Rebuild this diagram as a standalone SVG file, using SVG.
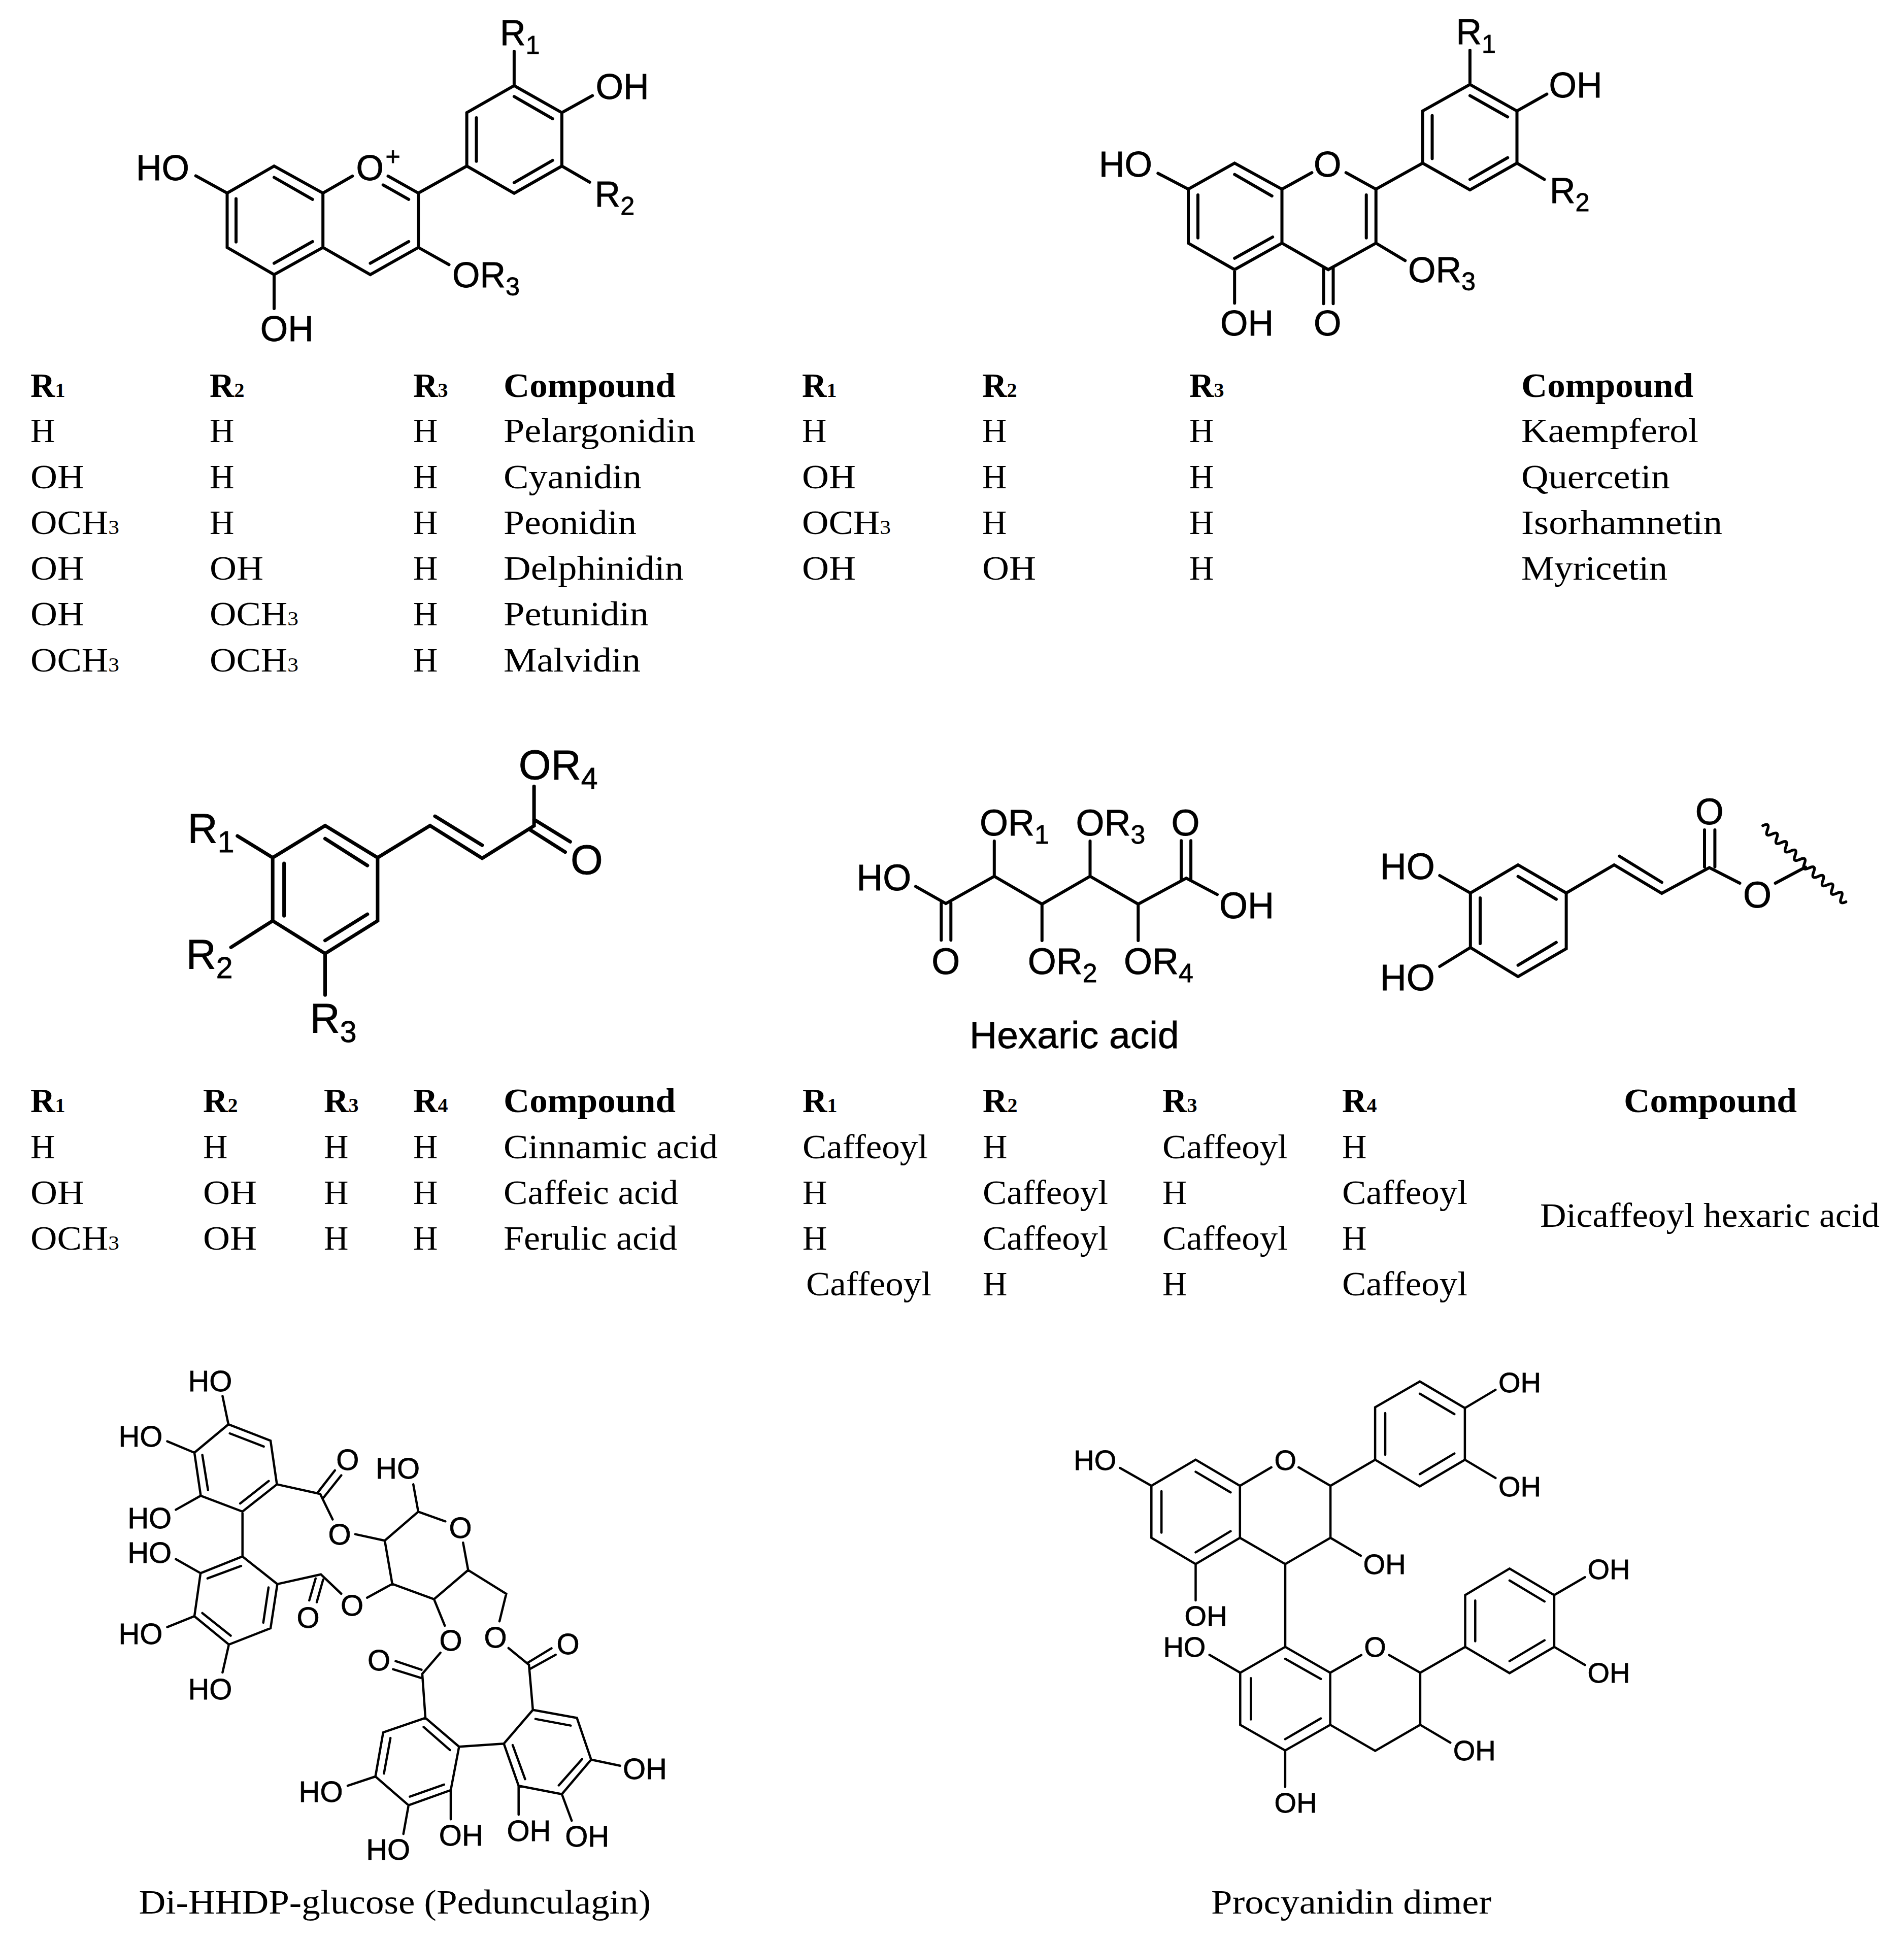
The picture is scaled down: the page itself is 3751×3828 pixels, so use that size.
<svg xmlns="http://www.w3.org/2000/svg" width="3751" height="3828" viewBox="0 0 3751 3828">
<style>
.b{fill:none;stroke:#000;stroke-linecap:round;stroke-linejoin:miter}
.w6{stroke-width:6}.w7{stroke-width:7}.w45{stroke-width:4.5}
.a{font-family:"Liberation Sans",Arial,sans-serif;fill:#000;stroke:#000;stroke-width:.8}
.f70{font-size:70px}.f82{font-size:82px}.f72{font-size:72px}.f58{font-size:58px}.f56{font-size:56px}
.s{font-size:.72em}
.t{font-family:"Liberation Serif","Times New Roman",serif;font-size:67px;fill:#000}
.h{font-weight:bold}
.u{font-size:40px}
</style>
<rect width="3751" height="3828" fill="#fff"/>

<g id="anthocyanidin">
<path class="b w6" d="M447.5 380.4L540 327.2L636.2 380.4L636.2 487.5L540 541L447.5 487.5Z M385.7 346.4L447.5 380.4 M636.2 380.4L694.4 346.9 M764.5 346.9L824.2 380.4L824.2 487.5L729.5 541L636.2 487.5 M824.2 380.4L919.6 327.2L919.6 221.9L1012.9 168.7L1106.9 221.9L1106.9 327.2L1012.9 380.8L919.6 327.2 M540 349.5L615.8 392.8 M465 391.5V476.8 M540 518.7L615.8 475.9 M729.5 518.7L805.2 475.9 M754.7 364.3L805.2 392.8 M1012.9 190.2L1088.7 233.9 M938.5 232.1V317.8 M1088.7 316L1012.9 359.8 M540 541V608 M824.2 487.5L884.5 521.4 M1012.9 168.7V100.9 M1106.9 221.9L1167.2 188.4 M1106.9 327.2L1161.6 358.9"/>
<g class="a f70">
<text x="985" y="89">R<tspan class="s" dy="17">1</tspan></text>
<text x="1173.5" y="195">OH</text>
<text x="268" y="355">HO</text>
<text x="701.5" y="355">O</text>
<text x="774" y="325" text-anchor="middle" font-size="50">+</text>
<text x="1171.6" y="407">R<tspan class="s" dy="16">2</tspan></text>
<text x="891" y="566">OR<tspan class="s" dy="16">3</tspan></text>
<text x="512.7" y="672">OH</text>
</g>
</g>

<g id="flavonol">
<path class="b w6" d="M2341 372.7L2432.2 321.4L2525.5 372.7V479L2432.2 531.2L2341 479Z M2281.3 341.5L2341 372.7 M2525.5 372.7L2584.4 340.2 M2651.7 340.2L2710.7 372.7V479L2616.7 531.2L2525.5 479 M2710.7 372.7L2802.6 321.4V218.7L2895.9 166.5L2988.5 218.7V321.4L2895.9 374L2802.6 321.4 M2432.2 343.7L2505.8 386.1 M2360 383.9V468.7 M2432.2 508.9L2507.2 467 M2691.7 383.9V468.7 M2895.9 188.4L2970.2 230.3 M2821.5 227.7V312.5 M2970.2 310.7L2895.9 353.5 M2607.5 527.6V598.2 M2626.5 527.6V598.2 M2432.2 531.2V597.3 M2710.7 479L2768.2 513.4 M2895.9 166.5V99.1 M2988.5 218.7L3047.4 185.3 M2988.5 321.4L3042.5 353.5"/>
<g class="a f70">
<text x="2868.5" y="87">R<tspan class="s" dy="17">1</tspan></text>
<text x="3051.6" y="192">OH</text>
<text x="2165" y="348">HO</text>
<text x="2588" y="348">O</text>
<text x="3053" y="400">R<tspan class="s" dy="16">2</tspan></text>
<text x="2774" y="556">OR<tspan class="s" dy="16">3</tspan></text>
<text x="2404" y="660.7">OH</text>
<text x="2588" y="660.7">O</text>
</g>
</g>

<g id="table-anthocyanidins">
<g class="t">
<text class="h" x="60" y="781.8">R<tspan class="u">1</tspan></text><text class="h" x="413" y="781.8">R<tspan class="u">2</tspan></text><text class="h" x="814" y="781.8">R<tspan class="u">3</tspan></text>
<text class="h" x="992" y="781.8" textLength="339" lengthAdjust="spacingAndGlyphs">Compound</text>
<text x="60" y="871.4">H</text><text x="413" y="871.4">H</text><text x="814" y="871.4">H</text><text x="992" y="871.4" textLength="378" lengthAdjust="spacingAndGlyphs">Pelargonidin</text>
<text x="60" y="961.5" textLength="106" lengthAdjust="spacingAndGlyphs">OH</text><text x="413" y="961.5">H</text><text x="814" y="961.5">H</text><text x="992" y="961.5" textLength="272" lengthAdjust="spacingAndGlyphs">Cyanidin</text>
<text x="60" y="1052" textLength="175" lengthAdjust="spacingAndGlyphs">OCH<tspan class="u">3</tspan></text><text x="413" y="1052">H</text><text x="814" y="1052">H</text><text x="992" y="1052" textLength="262" lengthAdjust="spacingAndGlyphs">Peonidin</text>
<text x="60" y="1142" textLength="106" lengthAdjust="spacingAndGlyphs">OH</text><text x="413" y="1142" textLength="106" lengthAdjust="spacingAndGlyphs">OH</text><text x="814" y="1142">H</text><text x="992" y="1142" textLength="355" lengthAdjust="spacingAndGlyphs">Delphinidin</text>
<text x="60" y="1232" textLength="106" lengthAdjust="spacingAndGlyphs">OH</text><text x="413" y="1232" textLength="175" lengthAdjust="spacingAndGlyphs">OCH<tspan class="u">3</tspan></text><text x="814" y="1232">H</text><text x="992" y="1232" textLength="286" lengthAdjust="spacingAndGlyphs">Petunidin</text>
<text x="60" y="1322.5" textLength="175" lengthAdjust="spacingAndGlyphs">OCH<tspan class="u">3</tspan></text><text x="413" y="1322.5" textLength="175" lengthAdjust="spacingAndGlyphs">OCH<tspan class="u">3</tspan></text><text x="814" y="1322.5">H</text><text x="992" y="1322.5" textLength="270" lengthAdjust="spacingAndGlyphs">Malvidin</text>
</g>
</g>

<g id="table-flavonols">
<g class="t">
<text class="h" x="1580" y="781.8">R<tspan class="u">1</tspan></text><text class="h" x="1935" y="781.8">R<tspan class="u">2</tspan></text><text class="h" x="2343" y="781.8">R<tspan class="u">3</tspan></text>
<text class="h" x="2997" y="781.8" textLength="339" lengthAdjust="spacingAndGlyphs">Compound</text>
<text x="1580" y="871.4">H</text><text x="1935" y="871.4">H</text><text x="2343" y="871.4">H</text><text x="2997" y="871.4" textLength="349" lengthAdjust="spacingAndGlyphs">Kaempferol</text>
<text x="1580" y="961.5" textLength="106" lengthAdjust="spacingAndGlyphs">OH</text><text x="1935" y="961.5">H</text><text x="2343" y="961.5">H</text><text x="2997" y="961.5" textLength="293" lengthAdjust="spacingAndGlyphs">Quercetin</text>
<text x="1580" y="1052" textLength="175" lengthAdjust="spacingAndGlyphs">OCH<tspan class="u">3</tspan></text><text x="1935" y="1052">H</text><text x="2343" y="1052">H</text><text x="2997" y="1052" textLength="396" lengthAdjust="spacingAndGlyphs">Isorhamnetin</text>
<text x="1580" y="1142" textLength="106" lengthAdjust="spacingAndGlyphs">OH</text><text x="1935" y="1142" textLength="106" lengthAdjust="spacingAndGlyphs">OH</text><text x="2343" y="1142">H</text><text x="2997" y="1142" textLength="288" lengthAdjust="spacingAndGlyphs">Myricetin</text>
</g>
</g>

<g id="cinnamic">
<path class="b w7" d="M537.2 1689.7L640.5 1626.5L743.9 1689.7V1814.1L640.5 1878.6L537.2 1814.1Z M743.9 1689.7L847.2 1626.5L949.9 1690.9L1052.1 1626.9V1549.3 M1052.1 1614.6L1123.3 1658.3 M1044.6 1635L1113.5 1678.7 M640.5 1652.2L723.8 1705.2 M559.6 1701.1V1804.3 M723.8 1801.1L640.5 1852.9 M856.9 1608.1L949.9 1665.2 M537.2 1689.7L467.8 1646.9 M537.2 1814.1L455.1 1866.4 M640.5 1878.6V1960.2"/>
<g class="a f82">
<text x="369.5" y="1659.6">R<tspan class="s" dy="19">1</tspan></text>
<text x="366.5" y="1908.4">R<tspan class="s" dy="19">2</tspan></text>
<text x="610.5" y="2033.6">R<tspan class="s" dy="19">3</tspan></text>
<text x="1021.7" y="1535">OR<tspan class="s" dy="19">4</tspan></text>
<text x="1124" y="1721.5">O</text>
</g>
</g>

<g id="hexaric-acid">
<path class="b w6" d="M1803.8 1746.4L1863.4 1780.1L1958.8 1726.5L2052.8 1781.2L2147.5 1726.5L2242.3 1781.2L2337 1730.2L2398 1762.4 M1854.3 1779V1852.3 M1873.3 1779V1852.3 M1958.8 1726.5V1656.9 M2147.5 1726.5V1656.9 M2327.1 1732.8V1656.2 M2346.1 1732.8V1656.2 M2052.8 1781.2V1853 M2242.3 1781.2V1853"/>
<g class="a f72">
<text x="1930" y="1645.8">OR<tspan class="s" dy="16">1</tspan></text>
<text x="2119.4" y="1645.8">OR<tspan class="s" dy="16">3</tspan></text>
<text x="2307.4" y="1645.8">O</text>
<text x="1687.2" y="1754">HO</text>
<text x="2402" y="1809.3">OH</text>
<text x="1835.3" y="1918.5">O</text>
<text x="2024.7" y="1918.5">OR<tspan class="s" dy="16">2</tspan></text>
<text x="2214" y="1918.5">OR<tspan class="s" dy="16">4</tspan></text>
<text x="1910" y="2064.6" font-size="75">Hexaric acid</text>
</g>
</g>

<g id="caffeoyl">
<path class="b w6" d="M2896.8 1759.3L2990.6 1704L3085.6 1759.3V1869L2990.6 1924L2896.8 1866.7Z M3085.6 1759.3L3180 1704L3273.8 1760L3367.5 1709.3L3427.5 1740 M3497.6 1740L3557 1708.3 M3358 1708V1635 M3378.4 1708V1635 M2990.6 1726.7L3065.9 1771.7 M2916 1769V1859 M3065.9 1856.7L2990.6 1901.7 M3190.2 1686.7L3273.8 1738.3 M2896.8 1759.3L2836.3 1725 M2896.8 1866.7L2836.3 1904"/>
<path class="b" stroke-width="5.5" d="M3472.8 1626.7q15 -7 9.1 8.33t9.1 8.33t9.1 8.33t9.1 8.33t9.1 8.33t9.1 8.33t9.1 8.33t9.1 8.33t9.1 8.33t9.1 8.33t9.1 8.33t9.1 8.33t9.1 8.33t9.1 8.33t9.1 8.33t9.1 8.33t9.1 8.33t9.1 8.33"/>
<g class="a f72">
<text x="2718.8" y="1732.3">HO</text>
<text x="2718.8" y="1950.7">HO</text>
<text x="3339.7" y="1624">O</text>
<text x="3434" y="1787.7">O</text>
</g>
</g>

<g id="table-cinnamates">
<g class="t">
<text class="h" x="60" y="2190.7">R<tspan class="u">1</tspan></text><text class="h" x="400" y="2190.7">R<tspan class="u">2</tspan></text><text class="h" x="638" y="2190.7">R<tspan class="u">3</tspan></text><text class="h" x="814" y="2190.7">R<tspan class="u">4</tspan></text>
<text class="h" x="992" y="2190.7" textLength="339" lengthAdjust="spacingAndGlyphs">Compound</text>
<text x="60" y="2281.7">H</text><text x="400" y="2281.7">H</text><text x="638" y="2281.7">H</text><text x="814" y="2281.7">H</text><text x="992" y="2281.7" textLength="422" lengthAdjust="spacingAndGlyphs">Cinnamic acid</text>
<text x="60" y="2371.7" textLength="106" lengthAdjust="spacingAndGlyphs">OH</text><text x="400" y="2371.7" textLength="106" lengthAdjust="spacingAndGlyphs">OH</text><text x="638" y="2371.7">H</text><text x="814" y="2371.7">H</text><text x="992" y="2371.7" textLength="344" lengthAdjust="spacingAndGlyphs">Caffeic acid</text>
<text x="60" y="2461.7" textLength="175" lengthAdjust="spacingAndGlyphs">OCH<tspan class="u">3</tspan></text><text x="400" y="2461.7" textLength="106" lengthAdjust="spacingAndGlyphs">OH</text><text x="638" y="2461.7">H</text><text x="814" y="2461.7">H</text><text x="992" y="2461.7" textLength="342" lengthAdjust="spacingAndGlyphs">Ferulic acid</text>
</g>
</g>

<g id="table-hexaric">
<g class="t">
<text class="h" x="1581" y="2190.7">R<tspan class="u">1</tspan></text><text class="h" x="1936" y="2190.7">R<tspan class="u">2</tspan></text><text class="h" x="2290" y="2190.7">R<tspan class="u">3</tspan></text><text class="h" x="2644" y="2190.7">R<tspan class="u">4</tspan></text>
<text class="h" x="3199" y="2190.7" textLength="341" lengthAdjust="spacingAndGlyphs">Compound</text>
<text x="1581" y="2281.7" textLength="247" lengthAdjust="spacingAndGlyphs">Caffeoyl</text><text x="1936" y="2281.7">H</text><text x="2290" y="2281.7" textLength="247" lengthAdjust="spacingAndGlyphs">Caffeoyl</text><text x="2644" y="2281.7">H</text>
<text x="1581" y="2371.7">H</text><text x="1936" y="2371.7" textLength="247" lengthAdjust="spacingAndGlyphs">Caffeoyl</text><text x="2290" y="2371.7">H</text><text x="2644" y="2371.7" textLength="247" lengthAdjust="spacingAndGlyphs">Caffeoyl</text>
<text x="1581" y="2461.7">H</text><text x="1936" y="2461.7" textLength="247" lengthAdjust="spacingAndGlyphs">Caffeoyl</text><text x="2290" y="2461.7" textLength="247" lengthAdjust="spacingAndGlyphs">Caffeoyl</text><text x="2644" y="2461.7">H</text>
<text x="1588" y="2551.7" textLength="247" lengthAdjust="spacingAndGlyphs">Caffeoyl</text><text x="1936" y="2551.7">H</text><text x="2290" y="2551.7">H</text><text x="2644" y="2551.7" textLength="247" lengthAdjust="spacingAndGlyphs">Caffeoyl</text>
<text x="3034" y="2416.7" textLength="669" lengthAdjust="spacingAndGlyphs">Dicaffeoyl hexaric acid</text>
</g>
</g>

<g id="pedunculagin">
<path class="b w45" d="M450 2806.2L533 2838.3L545.5 2924.4L477.7 2978L395.5 2946.8L383 2862Z M452.7 2824L519.6 2849.9 M398.6 2866.4L409.8 2935.6 M529.4 2917.8L473.2 2962 M450 2806.2L438.4 2750.4 M383 2862L329.5 2839.6 M395.5 2946.8L346.4 2974.4 M477.7 2978V3066.4 M477.7 3066.4L546.4 3120.9L533 3207.9L450.9 3240L383 3184.2L395.1 3099.4Z M529 3127.6L518.7 3196.8 M454.5 3222.6L398.6 3178 M408.9 3109.7L475 3085.2 M395.1 3099.4L346.4 3071.8 M383 3184.2L329.5 3205.7 M450.9 3240L438.4 3295 M545.5 2924.4L630.8 2943.2L655.3 2993.6 M626.3 2940L659.8 2896.8 M637.5 2950.3L672.3 2906.6 M700 3022.6L758 3035.2L824 2978.3L877.3 2997.3 M824 2978.3L814.2 2924.4 M758 3035.2L772.8 3120.6L855 3150.7L922.3 3093.3L912.3 3039.3 M922.3 3093.3L997.3 3140L984 3194.3 M546.4 3120.9L632.1 3101.7L672.3 3140 M621.8 3109.7L609.3 3153 M636.6 3112L624 3156.6 M723.2 3147.7L772.8 3120.6 M855 3150.7L876.3 3202.8 M867.7 3256.1L831.9 3297.7L838.1 3384.6 M830.4 3289.7L779.4 3272.7 M828.9 3305.6L774.3 3288.6 M1001.8 3247L1042.1 3279.9L1049.8 3368.8 M1039.6 3275.9L1086.5 3247.4 M1044.7 3287.8L1094.7 3260.1 M1049.8 3368.8L1136.5 3384.6L1164.6 3466.8L1106.9 3534.8L1021.7 3518.2L992.6 3435.2Z M1054.9 3386.6L1124.3 3399.6 M1146.7 3465.7L1100.8 3517.4 M1034.5 3505.2L1010 3438 M1164.6 3466.8L1221.7 3478.7 M1106.9 3534.8L1126.3 3587 M1021.7 3518.2V3575.2 M992.6 3435.2L904.4 3441.2 M904.4 3441.2L838.1 3384.6L754.9 3413.1L739.6 3500L804.9 3556.6L888 3526.9Z M886.5 3447.9L834.5 3402.4 M769.2 3424.1L756.4 3494.1 M807.4 3539.6L874.8 3515.9 M739.6 3500L685 3518.2 M804.9 3556.6L794.7 3613.1 M888 3526.9V3584.3"/>
<g class="a f58">
<text x="370.4" y="2740.5">HO</text>
<text x="233.4" y="2850">HO</text>
<text x="251.2" y="3010.6">HO</text>
<text x="251.2" y="3078.5">HO</text>
<text x="233.4" y="3239">HO</text>
<text x="370.4" y="3347.6">HO</text>
<text x="662.2" y="2895.9">O</text>
<text x="646.6" y="3043.2">O</text>
<text x="740" y="2913.3">HO</text>
<text x="884.4" y="3029.5">O</text>
<text x="671" y="3182.5">O</text>
<text x="584.6" y="3206.6">O</text>
<text x="724" y="3290.5">O</text>
<text x="865.4" y="3251.7">O</text>
<text x="953.5" y="3245.5">O</text>
<text x="1096.4" y="3259.3">O</text>
<text x="1227" y="3505.2">OH</text>
<text x="998.4" y="3627">OH</text>
<text x="1113.2" y="3638.4">OH</text>
<text x="864.8" y="3636.4">OH</text>
<text x="721.2" y="3664.1">HO</text>
<text x="588.6" y="3549.5">HO</text>
</g>
<text class="t" x="273.5" y="3770" textLength="1008.5" lengthAdjust="spacingAndGlyphs">Di-HHDP-glucose (Pedunculagin)</text>
</g>

<g id="procyanidin-dimer">
<path class="b w45" d="M2268.3 2927.2L2355.5 2875.9L2442.8 2927.2V3029.7L2355.5 3081.4L2268.3 3029.7Z M2442.8 2927.2L2504.7 2890.8 M2558.3 2890.8L2621.1 2927.2V3029.7L2532 3081.4L2442.8 3029.7 M2621.1 2927.2L2709.1 2875.9V2772.6L2797.1 2721.7L2885.9 2774.1V2875.9L2797.1 2928.3L2709.1 2875.9 M2355.5 2899.6L2424.4 2940.2 M2288.2 2937.9V3019.4 M2355.5 3058.4L2424.4 3016.7 M2797.1 2745.8L2865.2 2786 M2729 2784V2866 M2865.2 2863.6L2797.1 2904.2 M2268.3 2927.2L2206.3 2892 M2355.5 3081.4V3153 M2621.1 3029.7L2680.8 3065 M2885.9 2774.1L2946.3 2738.1 M2885.9 2875.9L2946.3 2911.9 M2532 3081.4V3244.6 M2531.9 3244.6L2443.3 3295.5V3398.1L2531.9 3448.6L2620.6 3398.1V3295.5Z M2620.6 3295.5L2681.8 3260.7 M2736.7 3260.7L2797.9 3295.5V3398.1L2709.2 3449.4L2620.6 3398.1 M2797.9 3295.5L2886.5 3244.6V3142.5L2973.9 3090.4L3061.9 3142.5V3244.6L2973.9 3296.3L2886.5 3244.6 M2531.9 3268L2602.1 3307.8 M2464.3 3306.3V3387.4 M2531.9 3426.4L2602.1 3385.5 M2973.9 3113.8L3042.8 3155.1 M2906.3 3153.2V3233.5 M3042.8 3231.6L2973.9 3272.6 M2443.3 3295.5L2382.7 3260.3 M2531.9 3448.6V3520.6 M2797.9 3398.1L2857.2 3433.3 M3061.9 3142.5L3122.5 3107.3 M3061.9 3244.6L3122.5 3280.2"/>
<g class="a f56">
<text x="2115.3" y="2895.8">HO</text>
<text x="2510.4" y="2895.8">O</text>
<text x="2951.9" y="2742.7">OH</text>
<text x="2951.9" y="2947.5">OH</text>
<text x="2685.6" y="3100.5">OH</text>
<text x="2333.6" y="3203.1">OH</text>
<text x="2291.4" y="3263.8">HO</text>
<text x="2687.2" y="3263.8">O</text>
<text x="3127.4" y="3111.1">OH</text>
<text x="3127.4" y="3315.4">OH</text>
<text x="2862.7" y="3467.8">OH</text>
<text x="2510.6" y="3571.1">OH</text>
</g>
<text class="t" x="2386" y="3770" textLength="552" lengthAdjust="spacingAndGlyphs">Procyanidin dimer</text>
</g>
</svg>
